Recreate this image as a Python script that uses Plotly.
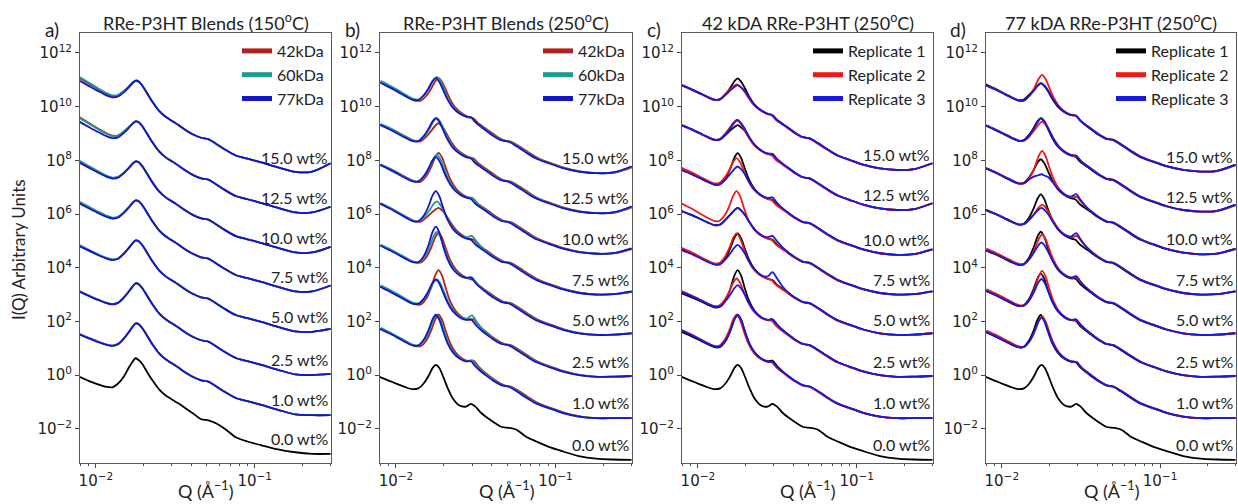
import numpy as np
import plotly.graph_objects as go

W, H = 1238, 504

# ---------------- data ----------------
Q = [0.0079, 0.0090, 0.0102, 0.0115, 0.0127, 0.0138, 0.0150, 0.0160, 0.0170, 0.0178,
     0.0187, 0.0197, 0.0210, 0.0228, 0.0250, 0.0275, 0.0295, 0.0315, 0.0340, 0.0370,
     0.0410, 0.0460, 0.0510, 0.0570, 0.0650, 0.0760, 0.0900, 0.1100, 0.1400, 0.1800,
     0.2300, 0.3000]

# log10 intensity relative to the high-Q minimum of each curve
BLEND_150 = [3.52, 3.32, 3.13, 2.96, 2.86, 2.88, 3.03, 3.18, 3.34, 3.42, 3.38, 3.22, 2.96, 2.62,
             2.30, 2.08, 1.96, 1.86, 1.72, 1.57, 1.42, 1.30, 1.25, 1.08, 0.86, 0.64, 0.52, 0.38,
             0.20, 0.03, 0.00, 0.00]
BLEND_250 = [3.41, 3.24, 3.06, 2.88, 2.75, 2.74, 2.93, 3.17, 3.44, 3.54, 3.40, 3.12, 2.76, 2.43,
             2.22, 2.09, 2.04, 1.86, 1.72, 1.57, 1.38, 1.22, 1.17, 1.00, 0.78, 0.54, 0.38, 0.20,
             0.06, 0.00, 0.00, 0.00]
NEAT_150 = [2.87, 2.72, 2.60, 2.50, 2.48, 2.62, 2.88, 3.18, 3.43, 3.56, 3.48, 3.33, 3.05, 2.72,
            2.40, 2.17, 2.06, 1.95, 1.84, 1.68, 1.50, 1.29, 1.25, 1.14, 0.93, 0.62, 0.46, 0.32,
            0.17, 0.06, 0.00, 0.00]
NEAT_250 = [3.09, 2.95, 2.82, 2.70, 2.63, 2.66, 2.86, 3.12, 3.42, 3.53, 3.42, 3.12, 2.70, 2.27,
            2.02, 1.98, 2.08, 1.98, 1.76, 1.58, 1.40, 1.22, 1.19, 1.12, 0.87, 0.68, 0.49, 0.32,
            0.14, 0.04, 0.01, 0.00]

# regions of the curve where individual curves differ (low-Q rise, main peak, 0.03 bump, high-Q upturn)
W_LOWQ = [1.0, 0.88, 0.76, 0.64, 0.54, 0.45, 0.34, 0.22, 0.10] + [0.0] * 23
W_PEAK = [0.0] * 6 + [0.10, 0.40, 0.85, 1.00, 0.85, 0.45, 0.15, 0.03] + [0.0] * 18
W_BUMP = [0.0] * 15 + [0.30, 1.00, 0.80, 0.30, 0.05] + [0.0] * 12
W_UP = [0.0] * 30 + [0.12, 1.00]

CONC_LABELS = ["0.0 wt%", "1.0 wt%", "2.5 wt%", "5.0 wt%", "7.5 wt%", "10.0 wt%", "12.5 wt%", "15.0 wt%"]

# high-Q minimum level (log10) of each curve, 0.0 wt% first
TAIL_A = [-2.93, -1.49, 0.00, 1.60, 3.09, 4.54, 6.03, 7.54]
TAIL_B = [-3.15, -1.60, -0.06, 1.50, 3.00, 4.52, 6.03, 7.52]
TAIL_C = [-3.15, -1.60, -0.06, 1.50, 3.00, 4.48, 6.15, 7.64]
TAIL_D = [-3.15, -1.60, -0.06, 1.50, 3.00, 4.50, 6.09, 7.58]

UP_A = [0.0, 0.05, 0.12, 0.25, 0.24, 0.24, 0.35]
UP_BCD = [0.0, 0.03, 0.06, 0.12, 0.20, 0.25, 0.25]

# per-series adjustments, concentrations 1.0 ... 15.0 wt%
BLEND_NAMES = ["42kDa", "60kDa", "77kDa"]
REP_NAMES = ["Replicate 1", "Replicate 2", "Replicate 3"]

PEAK_A = [[0, 0, 0, 0, 0, 0, 0], [0, 0, 0, 0, 0, 0, 0.02], [0, 0, 0, 0, 0, 0, 0]]
LOWQ_A = [[-0.50, -0.40, -0.30, -0.20, -0.10, 0.05, 0.00],
          [-0.50, -0.40, -0.28, -0.15, -0.08, 0.02, 0.04],
          [-0.52, -0.42, -0.32, -0.22, -0.15, -0.12, -0.10]]
BUMP_A = [[0] * 7, [0] * 7, [0] * 7]
SHIFT_A = [1.0, 1.0, 1.0]

PEAK_B = [[0.31, 0.43, 0.26, -0.31, 0.22, -0.19, 0.00],
          [0.31, 0.09, 0.29, -0.07, 0.15, 0.00, 0.05],
          [0.31, 0.09, 0.49, 0.31, 0.07, 0.00, 0.00]]
LOWQ_B = [[-0.12, -0.10, -0.10, -0.05, -0.12, -0.12, -0.08],
          [-0.05, 0.00, -0.05, 0.00, -0.08, -0.08, 0.03],
          [-0.08, -0.05, -0.08, -0.02, -0.10, -0.12, -0.03]]
BUMP_B = [[0.10, 0.10, 0.00, 0.00, 0.00, 0.00, 0.00],
          [0.12, 0.25, 0.10, 0.15, 0.05, 0.00, 0.00],
          [0.08, 0.10, 0.10, 0.00, 0.00, 0.00, 0.05]]
SHIFT_B = [1.04, 1.015, 1.0]

PEAK_C = [[0.31, 0.43, 0.24, -0.31, 0.25, -0.38, -0.13],
          [0.31, 0.12, 0.24, 0.31, 0.06, -0.19, -0.35],
          [0.31, -0.13, -0.19, -0.31, -0.25, -0.19, -0.38]]
LOWQ_C = [[-0.20, -0.30, -0.20, -0.30, -0.25, -0.25, -0.25],
          [-0.10, -0.20, -0.15, 0.00, -0.15, -0.25, -0.25],
          [-0.15, -0.25, -0.25, -0.30, -0.25, -0.25, -0.25]]
BUMP_C = [[0.10, 0.10, 0.00, 0.00, 0.00, 0.00, 0.00],
          [0.05, 0.05, 0.00, 0.00, 0.00, 0.00, 0.00],
          [0.05, 0.10, 0.30, 0.15, 0.10, 0.05, 0.00]]
SHIFT_C = [1.0, 0.985, 1.0]

PEAK_D = [[0.30, 0.30, 0.30, 0.19, 0.00, -0.06, -0.25],
          [0.25, 0.40, 0.20, -0.19, 0.31, -0.19, 0.06],
          [0.20, 0.10, -0.10, -0.31, -0.56, -0.06, -0.25]]
LOWQ_D = [[-0.20, -0.20, -0.25, -0.25, -0.20, -0.20, -0.15],
          [-0.15, -0.15, -0.20, -0.25, -0.20, -0.20, -0.20],
          [-0.20, -0.20, -0.25, -0.25, -0.20, -0.20, -0.20]]
BUMP_D = [[0.05, 0.05, 0.05, 0.00, 0.00, 0.00, 0.05],
          [0.05, 0.05, 0.10, 0.15, 0.10, 0.00, 0.00],
          [0.05, 0.10, 0.15, 0.25, 0.20, 0.05, 0.05]]
SHIFT_D = [0.99, 1.01, 1.0]

PANEL_TITLES = ["RRe-P3HT Blends (150<sup>o</sup>C)", "RRe-P3HT Blends (250<sup>o</sup>C)",
                "42 kDA RRe-P3HT (250<sup>o</sup>C)", "77 kDA RRe-P3HT (250<sup>o</sup>C)"]
PANEL_LETTERS = ["a)", "b)", "c)", "d)"]

Y_TICK_EXP = [-2, 0, 2, 4, 6, 8, 10, 12]
X_TICK_EXP = [-2, -1]
X_MINOR = [0.008, 0.009, 0.02, 0.03, 0.04, 0.05, 0.06, 0.07, 0.08, 0.09, 0.2, 0.3]

# ---------------- styling ----------------
BLEND_COLORS = ["#B0201E", "#1E9A8E", "#1414C8"]
REP_COLORS = ["#000000", "#F01818", "#1818E0"]
TXT = "Lato, 'Open Sans', sans-serif"
TICKF = "DejaVu Sans, sans-serif"
LW = 1.8

panels = [
    dict(tail=TAIL_A, up=UP_A, blend=BLEND_150, neat=NEAT_150, names=BLEND_NAMES, colors=BLEND_COLORS,
         peak=PEAK_A, lowq=LOWQ_A, bump=BUMP_A, shift=SHIFT_A),
    dict(tail=TAIL_B, up=UP_BCD, blend=BLEND_250, neat=NEAT_250, names=BLEND_NAMES, colors=BLEND_COLORS,
         peak=PEAK_B, lowq=LOWQ_B, bump=BUMP_B, shift=SHIFT_B),
    dict(tail=TAIL_C, up=UP_BCD, blend=BLEND_250, neat=NEAT_250, names=REP_NAMES, colors=REP_COLORS,
         peak=PEAK_C, lowq=LOWQ_C, bump=BUMP_C, shift=SHIFT_C),
    dict(tail=TAIL_D, up=UP_BCD, blend=BLEND_250, neat=NEAT_250, names=REP_NAMES, colors=REP_COLORS,
         peak=PEAK_D, lowq=LOWQ_D, bump=BUMP_D, shift=SHIFT_D),
]

# pixel layout of the four plot frames
LEFT = [80, 380, 682, 986]
RIGHT = [331, 632, 933, 1236]
TOP, BOTTOM = 33, 463

q = np.array(Q)
wl, wp, wb, wu = map(np.array, (W_LOWQ, W_PEAK, W_BUMP, W_UP))

fig = go.Figure()
layout = dict(width=W, height=H, margin=dict(l=0, r=0, t=0, b=0),
              paper_bgcolor="white", plot_bgcolor="white", showlegend=True)
annotations = []

for p, pan in enumerate(panels):
    sfx = "" if p == 0 else str(p + 1)
    xa, ya = "x" + sfx, "y" + sfx
    lg = "legend" + sfx
    # neat (0.0 wt%) curve
    logi = pan["tail"][0] + np.array(pan["neat"])
    fig.add_trace(go.Scatter(x=q, y=10 ** logi, xaxis=xa, yaxis=ya, mode="lines",
                             line=dict(color="black", width=LW, shape="spline", smoothing=0.8),
                             showlegend=False, hoverinfo="skip"))
    for s in range(3):
        for c in range(7):
            logi = (pan["tail"][c + 1] + np.array(pan["blend"]) + pan["peak"][s][c] * wp
                    + pan["lowq"][s][c] * wl + pan["bump"][s][c] * wb + pan["up"][c] * wu)
            fig.add_trace(go.Scatter(x=q * pan["shift"][s], y=10 ** logi, xaxis=xa, yaxis=ya,
                                     mode="lines",
                                     line=dict(color=pan["colors"][s], width=LW, shape="spline",
                                               smoothing=0.8),
                                     showlegend=False, hoverinfo="skip"))
    for s in range(3):
        fig.add_trace(go.Scatter(x=[None], y=[None], xaxis=xa, yaxis=ya, mode="lines",
                                 line=dict(color=pan["colors"][s], width=5),
                                 name=pan["names"][s], legend=lg, hoverinfo="skip"))

    x0, x1 = LEFT[p] / W, RIGHT[p] / W
    axis_common = dict(showline=True, mirror=True, linecolor="#5a5a5a", linewidth=1,
                       ticks="outside", ticklen=4, tickcolor="#444", showgrid=False,
                       zeroline=False, tickfont=dict(family=TICKF, size=15, color="#222"))
    layout["xaxis" + sfx] = dict(type="log", range=[-2.10, -0.52], domain=[x0, x1], anchor=ya,
                                 tickmode="array", tickvals=[10.0 ** e for e in X_TICK_EXP],
                                 ticktext=["10<sup>\u2212%d</sup>" % (-e) for e in X_TICK_EXP],
                                 minor=dict(ticks="outside", ticklen=2, tickcolor="#444",
                                            tickmode="array", tickvals=X_MINOR, showgrid=False),
                                 **axis_common)
    layout["yaxis" + sfx] = dict(type="log", range=[-3.27, 12.74],
                                 domain=[1 - BOTTOM / H, 1 - TOP / H], anchor=xa,
                                 tickmode="array", tickvals=[10.0 ** e for e in Y_TICK_EXP],
                                 ticktext=[("10<sup>\u2212%d</sup>" % (-e)) if e < 0 else
                                           ("10<sup>%d</sup>" % e) for e in Y_TICK_EXP],
                                 **axis_common)
    layout[lg] = dict(x=(RIGHT[p] - 2) / W, xanchor="right", y=1 - 34 / H, yanchor="top",
                      bgcolor="rgba(0,0,0,0)", borderwidth=0, tracegroupgap=0,
                      font=dict(family=TXT, size=16, color="#222"), itemwidth=30)

    # concentration labels
    for c, lab in enumerate(CONC_LABELS):
        annotations.append(dict(text=lab, xref=xa + " domain", x=0.995, xanchor="right",
                                yref=ya, y=pan["tail"][c] + 0.58, yanchor="middle",
                                showarrow=False, font=dict(family=TXT, size=16, color="#222")))
    # panel title and letter
    annotations.append(dict(text=PANEL_TITLES[p], xref="paper", x=(LEFT[p] + RIGHT[p]) / 2 / W,
                            xanchor="center", yref="paper", y=1 - 22 / H, yanchor="middle",
                            showarrow=False, font=dict(family=TXT, size=18, color="#222")))
    annotations.append(dict(text=PANEL_LETTERS[p], xref="paper", x=(LEFT[p] - 28) / W,
                            xanchor="center", yref="paper", y=1 - 29 / H, yanchor="middle",
                            showarrow=False, font=dict(family=TXT, size=19, color="#222")))
    # x axis title
    annotations.append(dict(text="Q (\u00c5<sup>\u22121</sup>)", xref="paper",
                            x=(LEFT[p] + RIGHT[p]) / 2 / W, xanchor="center", yref="paper",
                            y=0.0, yanchor="bottom", showarrow=False,
                            font=dict(family=TXT, size=18, color="#222")))

annotations.append(dict(text="I(Q) Arbitrary Units", xref="paper", x=18 / W, xanchor="center",
                        yref="paper", y=1 - 250 / H, yanchor="middle", textangle=-90,
                        showarrow=False, font=dict(family=TXT, size=17, color="#222")))
layout["annotations"] = annotations
fig.update_layout(**layout)

fig.write_html("out.html", config={"displayModeBar": False},
               post_script="document.body.style.margin='0px';")
